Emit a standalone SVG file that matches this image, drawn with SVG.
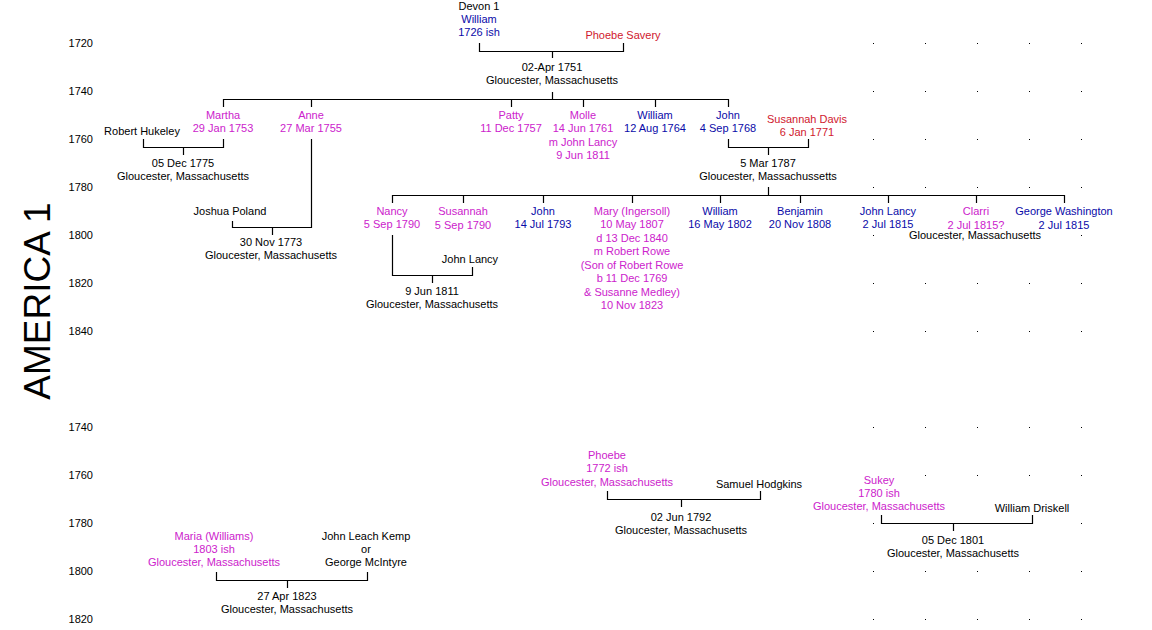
<svg xmlns="http://www.w3.org/2000/svg" width="1152" height="630" viewBox="0 0 1152 630">
<style>
text{font-family:"Liberation Sans",Arial,sans-serif;font-size:11px}
.c{text-anchor:middle}
.yr{text-anchor:end;fill:#000}
.k{fill:#000}
.m{fill:#CC22CC}
.b{fill:#0A0AA8}
.r{fill:#D0182E}
.ln{fill:none;stroke:#000;stroke-width:1.2}
.dot{fill:#000}
</style>
<rect width="1152" height="630" fill="#fff"/>
<text transform="translate(50,301) rotate(-90)" text-anchor="middle" style="font-size:37px" fill="#000">AMERICA 1</text>
<g id="axis">
<text class="yr" x="93" y="47">1720</text>
<text class="yr" x="93" y="95">1740</text>
<text class="yr" x="93" y="143">1760</text>
<text class="yr" x="93" y="191">1780</text>
<text class="yr" x="93" y="239">1800</text>
<text class="yr" x="93" y="287">1820</text>
<text class="yr" x="93" y="335">1840</text>
<text class="yr" x="93" y="431">1740</text>
<text class="yr" x="93" y="479">1760</text>
<text class="yr" x="93" y="527">1780</text>
<text class="yr" x="93" y="575">1800</text>
<text class="yr" x="93" y="623">1820</text>
</g>
<g id="grid-dots">
<rect class="dot" x="873" y="43" width="1" height="1"/><rect class="dot" x="925" y="43" width="1" height="1"/><rect class="dot" x="977" y="43" width="1" height="1"/><rect class="dot" x="1029" y="43" width="1" height="1"/><rect class="dot" x="1081" y="43" width="1" height="1"/>
<rect class="dot" x="873" y="91" width="1" height="1"/><rect class="dot" x="925" y="91" width="1" height="1"/><rect class="dot" x="977" y="91" width="1" height="1"/><rect class="dot" x="1029" y="91" width="1" height="1"/><rect class="dot" x="1081" y="91" width="1" height="1"/>
<rect class="dot" x="873" y="139" width="1" height="1"/><rect class="dot" x="925" y="139" width="1" height="1"/><rect class="dot" x="977" y="139" width="1" height="1"/><rect class="dot" x="1029" y="139" width="1" height="1"/><rect class="dot" x="1081" y="139" width="1" height="1"/>
<rect class="dot" x="873" y="187" width="1" height="1"/><rect class="dot" x="925" y="187" width="1" height="1"/><rect class="dot" x="977" y="187" width="1" height="1"/><rect class="dot" x="1029" y="187" width="1" height="1"/><rect class="dot" x="1081" y="187" width="1" height="1"/>
<rect class="dot" x="873" y="235" width="1" height="1"/><rect class="dot" x="1081" y="235" width="1" height="1"/>
<rect class="dot" x="873" y="283" width="1" height="1"/><rect class="dot" x="925" y="283" width="1" height="1"/><rect class="dot" x="977" y="283" width="1" height="1"/><rect class="dot" x="1029" y="283" width="1" height="1"/><rect class="dot" x="1081" y="283" width="1" height="1"/>
<rect class="dot" x="873" y="331" width="1" height="1"/><rect class="dot" x="925" y="331" width="1" height="1"/><rect class="dot" x="977" y="331" width="1" height="1"/><rect class="dot" x="1029" y="331" width="1" height="1"/><rect class="dot" x="1081" y="331" width="1" height="1"/>
<rect class="dot" x="873" y="427" width="1" height="1"/><rect class="dot" x="925" y="427" width="1" height="1"/><rect class="dot" x="977" y="427" width="1" height="1"/><rect class="dot" x="1029" y="427" width="1" height="1"/><rect class="dot" x="1081" y="427" width="1" height="1"/>
<rect class="dot" x="925" y="475" width="1" height="1"/><rect class="dot" x="977" y="475" width="1" height="1"/><rect class="dot" x="1029" y="475" width="1" height="1"/><rect class="dot" x="1081" y="475" width="1" height="1"/>
<rect class="dot" x="873" y="523" width="1" height="1"/><rect class="dot" x="1081" y="523" width="1" height="1"/>
<rect class="dot" x="873" y="571" width="1" height="1"/><rect class="dot" x="925" y="571" width="1" height="1"/><rect class="dot" x="977" y="571" width="1" height="1"/><rect class="dot" x="1029" y="571" width="1" height="1"/><rect class="dot" x="1081" y="571" width="1" height="1"/>
<rect class="dot" x="873" y="619" width="1" height="1"/><rect class="dot" x="925" y="619" width="1" height="1"/><rect class="dot" x="977" y="619" width="1" height="1"/><rect class="dot" x="1029" y="619" width="1" height="1"/><rect class="dot" x="1081" y="619" width="1" height="1"/>
</g>
<g id="connectors">
<path class="ln" d="M479.5,43 V51.5 H623.5 V43 M552.5,51.5 V58"/>
<path class="ln" d="M552.5,92 V99.5 M223.5,107 V99.5 H728.5 V107 M311.5,99.5 V107 M511.5,99.5 V107 M583.5,99.5 V107 M655.5,99.5 V107"/>
<path class="ln" d="M143.5,139 V147.5 H223.5 V139 M183.5,147.5 V155"/>
<path class="ln" d="M311.5,139 V227.5 H232.5 V221 M272.5,227.5 V235"/>
<path class="ln" d="M728.5,139 V147.5 H808.5 V139 M768.5,147.5 V155"/>
<path class="ln" d="M768.5,187 V195.5 M392.5,203 V195.5 H1064.5 V203 M463.5,195.5 V203 M543.5,195.5 V203 M632.5,195.5 V203 M720.5,195.5 V203 M800.5,195.5 V203 M888.5,195.5 V203 M976.5,195.5 V203"/>
<path class="ln" d="M392.5,235 V275.5 H472.5 V267 M432.5,275.5 V283"/>
<path class="ln" d="M607.5,491 V499.5 H760.5 V491 M681.5,499.5 V507"/>
<path class="ln" d="M881.5,515 V523.5 H1032.5 V515 M953.5,523.5 V531"/>
<path class="ln" d="M216.5,572 V580.5 H367.5 V572 M287.5,580.5 V588"/>
</g>
<g id="william"><text class="c k" x="479" y="10">Devon 1</text><text class="c b" x="479" y="23">William</text><text class="c b" x="479" y="36">1726 ish</text></g>
<g id="phoebe-savery"><text class="c r" x="623" y="39">Phoebe Savery</text></g>
<g id="marriage-1751"><text class="c k" x="552" y="71">02-Apr 1751</text><text class="c k" x="552" y="84">Gloucester, Massachusetts</text></g>
<g id="martha"><text class="c m" x="223" y="119">Martha</text><text class="c m" x="223" y="132">29 Jan 1753</text></g>
<g id="anne"><text class="c m" x="311" y="119">Anne</text><text class="c m" x="311" y="132">27 Mar 1755</text></g>
<g id="patty"><text class="c m" x="511" y="119">Patty</text><text class="c m" x="511" y="132">11 Dec 1757</text></g>
<g id="molle"><text class="c m" x="583" y="119">Molle</text><text class="c m" x="583" y="132">14 Jun 1761</text><text class="c m" x="583" y="146">m John Lancy</text><text class="c m" x="583" y="159">9 Jun 1811</text></g>
<g id="william-1764"><text class="c b" x="655" y="119">William</text><text class="c b" x="655" y="132">12 Aug 1764</text></g>
<g id="john-1768"><text class="c b" x="728" y="119">John</text><text class="c b" x="728" y="132">4 Sep 1768</text></g>
<g id="susannah-davis"><text class="c r" x="807" y="123">Susannah Davis</text><text class="c r" x="807" y="136">6 Jan 1771</text></g>
<g id="robert-hukeley"><text class="c k" x="142" y="135">Robert Hukeley</text></g>
<g id="marriage-1775"><text class="c k" x="183" y="167">05 Dec 1775</text><text class="c k" x="183" y="180">Gloucester, Massachusetts</text></g>
<g id="marriage-1787"><text class="c k" x="768" y="167">5 Mar 1787</text><text class="c k" x="768" y="180">Gloucester, Massachussetts</text></g>
<g id="joshua-poland"><text class="c k" x="230" y="215">Joshua Poland</text></g>
<g id="marriage-1773"><text class="c k" x="271" y="246">30 Nov 1773</text><text class="c k" x="271" y="259">Gloucester, Massachusetts</text></g>
<g id="nancy"><text class="c m" x="392" y="215">Nancy</text><text class="c m" x="392" y="228">5 Sep 1790</text></g>
<g id="susannah"><text class="c m" x="463" y="215">Susannah</text><text class="c m" x="463" y="229">5 Sep 1790</text></g>
<g id="john-1793"><text class="c b" x="543" y="215">John</text><text class="c b" x="543" y="228">14 Jul 1793</text></g>
<g id="mary"><text class="c m" x="632" y="215">Mary (Ingersoll)</text><text class="c m" x="632" y="228">10 May 1807</text><text class="c m" x="632" y="242">d 13 Dec 1840</text><text class="c m" x="632" y="255">m Robert Rowe</text><text class="c m" x="632" y="269">(Son of Robert Rowe</text><text class="c m" x="632" y="282">b 11 Dec 1769</text><text class="c m" x="632" y="296">&amp; Susanne Medley)</text><text class="c m" x="632" y="309">10 Nov 1823</text></g>
<g id="william-1802"><text class="c b" x="720" y="215">William</text><text class="c b" x="720" y="228">16 May 1802</text></g>
<g id="benjamin"><text class="c b" x="800" y="215">Benjamin</text><text class="c b" x="800" y="228">20 Nov 1808</text></g>
<g id="john-lancy-1815"><text class="c b" x="888" y="215">John Lancy</text><text class="c b" x="888" y="228">2 Jul 1815</text></g>
<g id="clarri"><text class="c m" x="976" y="215">Clarri</text><text class="c m" x="976" y="229">2 Jul 1815?</text></g>
<g id="george-washington"><text class="c b" x="1064" y="215">George Washington</text><text class="c b" x="1064" y="229">2 Jul 1815</text></g>
<g id="place-1815"><text class="c k" x="975" y="239">Gloucester, Massachusetts</text></g>
<g id="john-lancy"><text class="c k" x="470" y="263">John Lancy</text></g>
<g id="marriage-1811"><text class="c k" x="432" y="295">9 Jun 1811</text><text class="c k" x="432" y="308">Gloucester, Massachusetts</text></g>
<g id="phoebe"><text class="c m" x="607" y="459">Phoebe</text><text class="c m" x="607" y="472">1772 ish</text><text class="c m" x="607" y="486">Gloucester, Massachusetts</text></g>
<g id="samuel-hodgkins"><text class="c k" x="759" y="488">Samuel Hodgkins</text></g>
<g id="marriage-1792"><text class="c k" x="681" y="521">02 Jun 1792</text><text class="c k" x="681" y="534">Gloucester, Massachusetts</text></g>
<g id="sukey"><text class="c m" x="879" y="484">Sukey</text><text class="c m" x="879" y="497">1780 ish</text><text class="c m" x="879" y="510">Gloucester, Massachusetts</text></g>
<g id="william-driskell"><text class="c k" x="1032" y="512">William Driskell</text></g>
<g id="marriage-1801"><text class="c k" x="953" y="544">05 Dec 1801</text><text class="c k" x="953" y="557">Gloucester, Massachusetts</text></g>
<g id="maria"><text class="c m" x="214" y="540">Maria (Williams)</text><text class="c m" x="214" y="553">1803 ish</text><text class="c m" x="214" y="566">Gloucester, Massachusetts</text></g>
<g id="john-leach-kemp"><text class="c k" x="366" y="540">John Leach Kemp</text><text class="c k" x="366" y="553">or</text><text class="c k" x="366" y="566">George McIntyre</text></g>
<g id="marriage-1823"><text class="c k" x="287" y="600">27 Apr 1823</text><text class="c k" x="287" y="613">Gloucester, Massachusetts</text></g>
</svg>
